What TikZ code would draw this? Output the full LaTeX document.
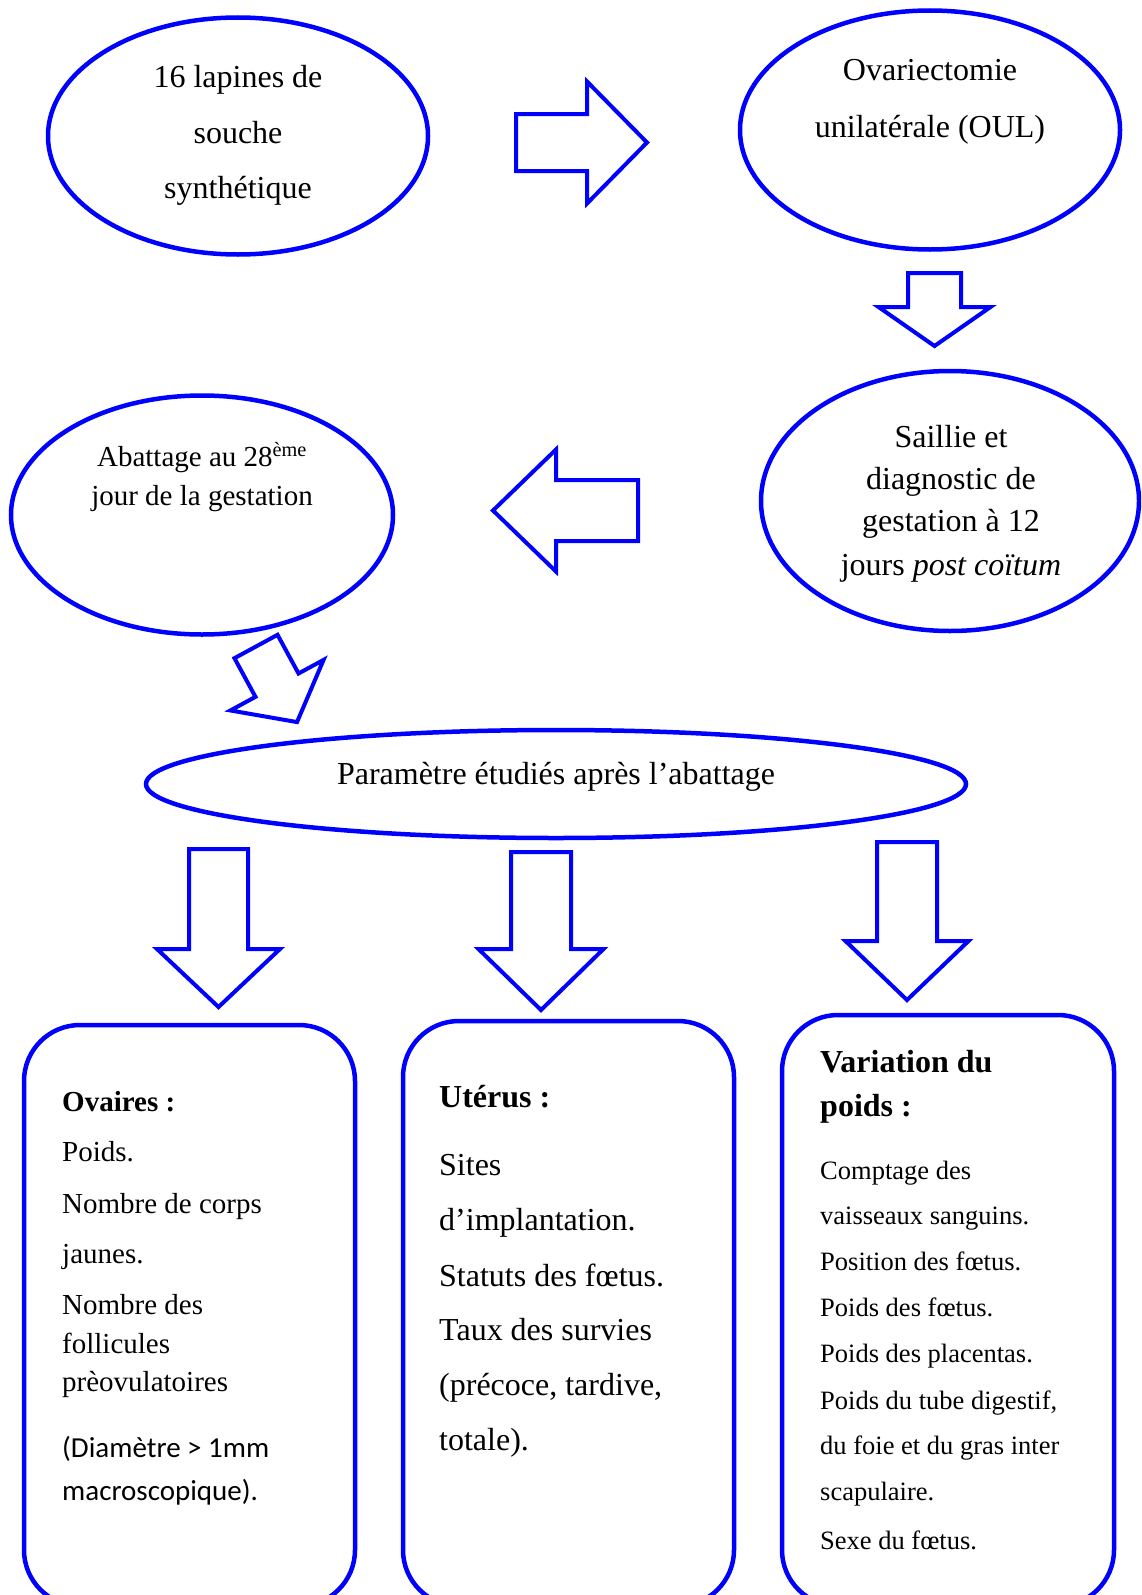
\documentclass[tikz,border=0pt]{standalone}
\usepackage{fontspec}
\setmainfont{Liberation Serif}
\newfontfamily\calibri{Carlito}
\usetikzlibrary{shapes.geometric}
\usetikzlibrary{calc}
\tikzset{oval/.style={draw=blue,
                      line width=4.5pt,
                      ellipse,
                      inner sep=0pt}}
\tikzset{card/.style={draw=blue,
                      line width=4.5pt,
                      rectangle,
                      rounded corners=56pt,
                      inner sep=0pt}}
\tikzset{arrowline/.style={draw=blue,line width=4pt,line join=miter}}
\tikzset{txt/.style={inner sep=0pt,font=\fontsize{32}{38}\selectfont}}
\tikzset{txtmid/.style={inner sep=0pt,font=\fontsize{29}{35}\selectfont}}
\tikzset{txtsmall/.style={inner sep=0pt,font=\fontsize{26.5}{32}\selectfont}}
\tikzset{pics/hollow arrow/.style n args={4}{code={
  \draw [arrowline] (0,-#2) -- (#1-#4,-#2) -- (#1-#4,-#3) -- (#1,0)
        -- (#1-#4,#3) -- (#1-#4,#2) -- (0,#2) -- cycle;
}}}

\begin{document}
\begin{tikzpicture}[x=1pt,y=-1pt]
  \useasboundingbox (0,0) rectangle (1141,1595);
  \clip (0,0) rectangle (1141,1595);

  % ovals
  \node [oval,minimum width=380pt,minimum height=237pt] (lapines) at (238,136) {};
  \node [oval,minimum width=380pt,minimum height=239pt] (oul) at (930,130) {};
  \node [oval,minimum width=378pt,minimum height=260pt] (saillie) at (950,501) {};
  \node [oval,minimum width=382pt,minimum height=239pt] (abattage) at (202,515) {};
  \node [oval,minimum width=820pt,minimum height=108pt] (param) at (556,784) {};

  % oval texts
  \foreach \n/\x/\y/\t in
  {
  l1/238/88/16 lapines de,
  l2/238/143/souche,
  l3/238/198/synthétique,
  o1/930/81/Ovariectomie,
  o2/930/137/unilatérale (OUL),
  s1/951/447/Saillie et,
  s2/951/489/diagnostic de,
  s3/951/531/gestation à 12,
  s4/951/575/jours \textit{post coïtum},
  p1/556/784/Paramètre étudiés après l’abattage
  }
  {
  \node [txt,anchor=base] (\n) at (\x,\y) {\t};
  }
  \node [txtmid,anchor=base] (a1) at (202,466) {Abattage au 28\textsuperscript{ème}};
  \node [txtmid,anchor=base] (a2) at (202,505) {jour de la gestation};

  % block arrows
  \pic (toOUL) at (516,142.5) {hollow arrow={131}{28.5}{61}{60}};
  \pic [rotate=-90] (toSaillie) at (934.5,273) {hollow arrow={73}{26.5}{56}{39}};
  \pic [rotate=180] (toAbattage) at (638,510.5) {hollow arrow={145}{30.5}{61}{63}};
  \pic [rotate=-61.5] (toParam) at (256,646.5) {hollow arrow={86}{24.5}{53}{42}};
  \pic [rotate=-90] (toOvaires) at (218.5,849) {hollow arrow={158}{29.5}{61.5}{58}};
  \pic [rotate=-90] (toUterus) at (541,852) {hollow arrow={158}{30}{62.5}{61}};
  \pic [rotate=-90] (toPoids) at (907,842) {hollow arrow={158}{30}{61.5}{59}};

  % boxes
  \node [card,minimum width=331pt,minimum height=581pt] (ovaires) at (189.5,1315.5) {};
  \node [card,minimum width=331pt,minimum height=585pt] (uterus) at (568.5,1313.5) {};
  \node [card,minimum width=332pt,minimum height=591pt] (poids) at (948,1310.5) {};

  % box texts
  \foreach \i/\y/\t in
  {
  1/1111/\textbf{Ovaires :},
  2/1161/Poids.,
  3/1213/Nombre de corps,
  4/1263/jaunes.,
  5/1314/Nombre des,
  6/1353/follicules,
  7/1391/prèovulatoires
  }
  {
  \node [txtmid,anchor=base west] (ov\i) at (62,\y) {\t};
  }
  \node [txtmid,anchor=base west] (ov8) at (62,1457) {\calibri (Diamètre > 1mm};
  \node [txtmid,anchor=base west] (ov9) at (62,1500) {\calibri macroscopique).};

  \foreach \i/\y/\t in
  {
  1/1107/\textbf{Utérus :},
  2/1175/Sites,
  3/1230/d’implantation.,
  4/1286/Statuts des fœtus.,
  5/1340/Taux des survies,
  6/1395/{(précoce, tardive,},
  7/1450/totale).
  }
  {
  \node [txt,anchor=base west] (ut\i) at (439,\y) {\t};
  }

  \node [txt,anchor=base west] (va1) at (820,1072) {\textbf{Variation du}};
  \node [txt,anchor=base west] (va2) at (820,1116) {\textbf{poids :}};
  \foreach \i/\y/\t in
  {
  3/1179/Comptage des,
  4/1224/vaisseaux sanguins.,
  5/1270/Position des fœtus.,
  6/1316/Poids des fœtus.,
  7/1362/Poids des placentas.,
  8/1409/{Poids du tube digestif,},
  9/1454/du foie et du gras inter,
  10/1500/scapulaire.,
  11/1549/Sexe du fœtus.
  }
  {
  \node [txtsmall,anchor=base west] (va\i) at (820,\y) {\t};
  }

\end{tikzpicture}
\end{document}
